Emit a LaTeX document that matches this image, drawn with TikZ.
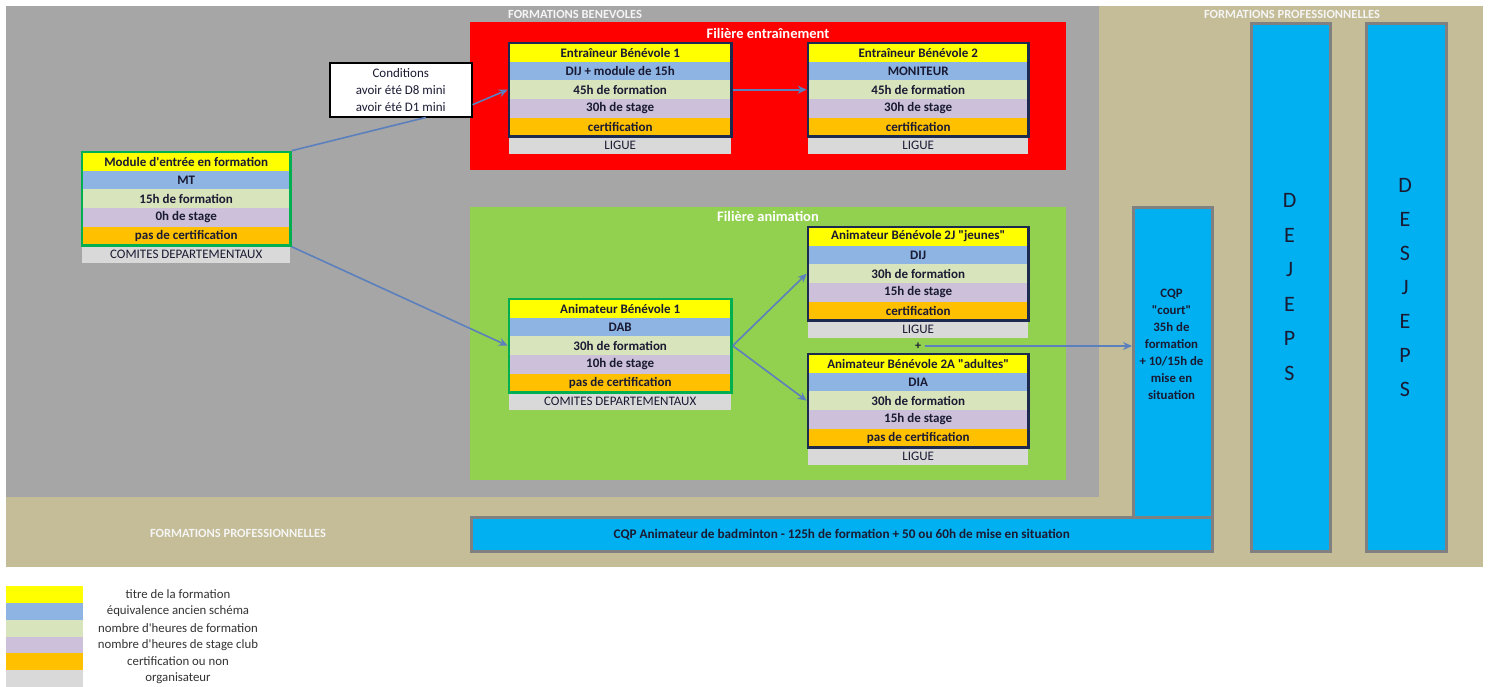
\documentclass[tikz,border=0pt]{standalone}
\usepackage{fontspec}
\setmainfont{Carlito}[Ligatures=TeXOff]
\usetikzlibrary{arrows.meta,fit,calc}
\definecolor{bggray}{HTML}{A6A6A6}
\definecolor{tanbg}{HTML}{C4BD97}
\definecolor{redbox}{HTML}{FF0000}
\definecolor{greenbox}{HTML}{92D050}
\definecolor{cyanbox}{HTML}{00B0F0}
\definecolor{rowc1}{HTML}{FFFF00}
\definecolor{rowc2}{HTML}{8DB4E2}
\definecolor{rowc3}{HTML}{D8E4BC}
\definecolor{rowc4}{HTML}{CCC0DA}
\definecolor{rowc5}{HTML}{FFC000}
\definecolor{rowc6}{HTML}{D9D9D9}
\definecolor{navyb}{HTML}{1B2A4E}
\definecolor{greenb}{HTML}{00B050}
\definecolor{arrowc}{HTML}{5B80BD}
\definecolor{txt}{HTML}{1A1A33}
\definecolor{colborder}{HTML}{808080}
\tikzset{
  row/.style={rectangle, anchor=north west, inner sep=0pt, minimum height=18.6pt,
    text=txt, font=\bfseries\fontsize{13}{13}\selectfont},
  orgrow/.style={row, minimum height=16.5pt, font=\fontsize{13}{13}\selectfont},
  conn/.style={draw=arrowc, line width=1.6pt},
  arr/.style={conn, -{Stealth[length=9pt,width=8pt]}},
  zonelabel/.style={text=white!92!gray, font=\bfseries\fontsize{12.5}{12.5}\selectfont},
  filtitle/.style={text=white, font=\bfseries\fontsize{14.5}{14.5}\selectfont},
  column/.style={draw=colborder, fill=cyanbox, line width=2.5pt, anchor=north west, inner sep=0pt},
  coltext/.style={text=txt, align=center},
  swatch/.style={anchor=north west, inner sep=0pt, minimum width=77pt, minimum height=16.8pt},
  legtext/.style={text=black!80, font=\fontsize{12.8}{13}\selectfont},
}
\newcommand\card[6]{%
  \foreach \t [count=\i] in {#6} {%
    \ifnum\i<6
      \node[row, minimum width=#4pt, fill=rowc\i] (#1-\i) at (#2, {#3+(\i-1)*18.6}) {\t};
    \else
      \node[orgrow, minimum width=#4pt, fill=rowc6] (#1-\i) at (#2, {#3+5*18.6+1}) {\t};
    \fi
  }%
  \node[fit=(#1-1)(#1-5), inner sep=0pt, draw=#5, line width=2.6pt] (#1) {};
}
\begin{document}
\begin{tikzpicture}[x=1pt,y=-1pt]
\useasboundingbox (0,0) rectangle (1488,686);
\fill[white] (0,0) rectangle (1488,686);
% zones
\fill[tanbg] (6,6) rectangle (1483,567);
\fill[bggray] (6,6) rectangle (1099,497);
\fill[redbox] (470,22) rectangle (1066,170);
\fill[greenbox] (470,207) rectangle (1066,480);
\node[zonelabel] (lbenev) at (575,14) {FORMATIONS BENEVOLES};
\node[zonelabel] (lpro1) at (1292,14) {FORMATIONS PROFESSIONNELLES};
\node[zonelabel] (lpro2) at (238,533) {FORMATIONS PROFESSIONNELLES};
\node[filtitle] (tentr) at (768,33) {Filière entraînement};
\node[filtitle] (tanim) at (768,216) {Filière animation};
% cards
\card{eb1}{509}{43}{222}{navyb}{Entraîneur Bénévole 1,DIJ + module de 15h,45h de formation,30h de stage,certification,LIGUE}
\card{eb2}{808}{43}{220}{navyb}{Entraîneur Bénévole 2,MONITEUR,45h de formation,30h de stage,certification,LIGUE}
\card{mod}{82}{152}{208}{greenb}{Module d'entrée en formation,MT,15h de formation,0h de stage,pas de certification,COMITES DEPARTEMENTAUX}
\card{ab1}{509}{299}{222}{greenb}{Animateur Bénévole 1,DAB,30h de formation,10h de stage,pas de certification,COMITES DEPARTEMENTAUX}
\card{abj}{808}{227}{220}{navyb}{Animateur Bénévole 2J "jeunes",DIJ,30h de formation,15h de stage,certification,LIGUE}
\card{aba}{808}{354}{220}{navyb}{Animateur Bénévole 2A "adultes",DIA,30h de formation,15h de stage,pas de certification,LIGUE}
% conditions
\node[draw=black, fill=white, line width=1.5pt, anchor=north west, inner sep=0pt,
  minimum width=142pt, minimum height=54pt, align=center, text=txt,
  font=\fontsize{13}{17}\selectfont] (cond) at (329,62)
  {Conditions\\avoir été D8 mini\\avoir été D1 mini};
\node[text=txt, font=\bfseries\fontsize{12}{12}\selectfont] (plus) at (918,346) {+};
% professional columns
\node[column, minimum width=79pt, minimum height=311pt] (cqpc) at (1132,206) {};
\node[coltext, font=\bfseries\fontsize{12.8}{17}\selectfont] (cqpctext) at (1171.5,344)
  {CQP\\"court"\\35h de\\formation\\+ 10/15h de\\mise en\\situation};
\node[column, minimum width=741pt, minimum height=34pt, text=txt,
  font=\bfseries\fontsize{13.2}{13}\selectfont] (cqpa) at (470,516)
  {CQP Animateur de badminton - 125h de formation + 50 ou 60h de mise en situation};
\node[column, minimum width=79pt, minimum height=528pt] (dejeps) at (1250,22) {};
\node[coltext, font=\fontsize{22}{34.5}\selectfont] (dejepst) at (1289.5,287) {D\\E\\J\\E\\P\\S};
\node[column, minimum width=80pt, minimum height=528pt] (desjeps) at (1365,22) {};
\node[coltext, font=\fontsize{22}{34}\selectfont] (desjepst) at (1405,288) {D\\E\\S\\J\\E\\P\\S};
% connectors
\draw[conn] (mod.north east) -- ([xshift=25pt]cond.south);
\draw[arr] ([yshift=-15pt]cond.east) -- (eb1.west);
\draw[arr] (eb1.east) -- (eb2.west);
\draw[arr] (mod.south east) -- (ab1.west);
\draw[arr] (ab1.east) -- (abj.west);
\draw[arr] (ab1.east) -- (aba.west);
\draw[arr, line width=1.2pt] (plus.east) -- (plus.east -| cqpc.west);
% legend
\foreach \t [count=\i] in {titre de la formation,équivalence ancien schéma,nombre d'heures de formation,nombre d'heures de stage club,certification ou non,organisateur} {
  \node[swatch, fill=rowc\i] (lg\i) at (6,{586+(\i-1)*16.8}) {};
  \node[legtext] (lt\i) at (178,{594.4+(\i-1)*16.8}) {\t};
}
\end{tikzpicture}
\end{document}
